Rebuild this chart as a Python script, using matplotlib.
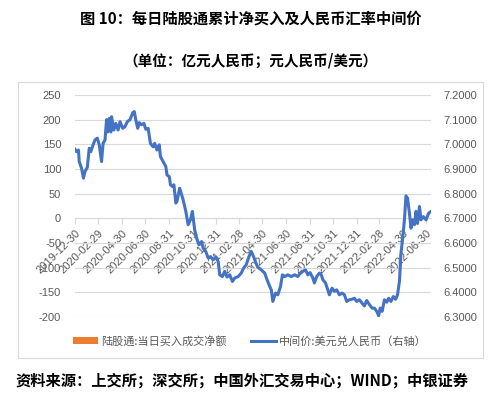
import matplotlib
matplotlib.use("Agg")
import matplotlib.pyplot as plt
import matplotlib.dates as mdates
from matplotlib.patches import Patch, Rectangle
from matplotlib.lines import Line2D
import pandas as pd

plt.rcParams['axes.unicode_minus'] = False

# ---- data ----
dates = [
    "2019-12-30", "2020-01-03", "2020-01-08", "2020-01-10", "2020-01-16", "2020-01-21", "2020-01-25",
    "2020-01-31", "2020-02-05", "2020-02-09", "2020-02-15", "2020-02-20", "2020-02-26", "2020-03-02",
    "2020-03-08", "2020-03-12", "2020-03-17", "2020-03-21", "2020-03-24", "2020-03-28", "2020-04-01",
    "2020-04-03", "2020-04-09", "2020-04-14", "2020-04-20", "2020-04-25", "2020-05-02", "2020-05-08",
    "2020-05-14", "2020-05-21", "2020-05-28", "2020-06-01", "2020-06-05", "2020-06-10", "2020-06-14",
    "2020-06-20", "2020-06-26", "2020-07-01", "2020-07-07", "2020-07-13", "2020-07-20", "2020-07-24",
    "2020-07-30", "2020-08-05", "2020-08-08", "2020-08-15", "2020-08-22", "2020-08-25", "2020-08-31",
    "2020-09-03", "2020-09-08", "2020-09-12", "2020-09-17", "2020-09-20", "2020-09-27", "2020-10-06",
    "2020-10-13", "2020-10-19", "2020-10-25", "2020-10-30", "2020-11-05", "2020-11-10", "2020-11-16",
    "2020-11-23", "2020-11-27", "2020-12-04", "2020-12-10", "2020-12-16", "2020-12-23", "2020-12-30",
    "2021-01-05", "2021-01-09", "2021-01-16", "2021-01-22", "2021-01-28", "2021-02-04", "2021-02-11",
    "2021-02-17", "2021-02-26", "2021-03-06", "2021-03-12", "2021-03-19", "2021-03-26", "2021-04-01",
    "2021-04-07", "2021-04-13", "2021-04-18", "2021-04-27", "2021-05-06", "2021-05-12", "2021-05-19",
    "2021-05-23", "2021-05-27", "2021-06-03", "2021-06-09", "2021-06-16", "2021-06-21", "2021-06-27",
    "2021-07-05", "2021-07-14", "2021-07-23", "2021-07-31", "2021-08-05", "2021-08-13", "2021-08-20",
    "2021-08-26", "2021-09-01", "2021-09-08", "2021-09-12", "2021-09-18", "2021-09-25", "2021-09-30",
    "2021-10-04", "2021-10-11", "2021-10-17", "2021-10-21", "2021-10-28", "2021-11-03", "2021-11-09",
    "2021-11-16", "2021-11-23", "2021-11-29", "2021-12-05", "2021-12-12", "2021-12-19", "2021-12-25",
    "2021-12-31", "2022-01-07", "2022-01-14", "2022-01-20", "2022-01-26", "2022-02-02", "2022-02-09",
    "2022-02-15", "2022-02-21", "2022-02-26", "2022-03-02", "2022-03-07", "2022-03-13", "2022-03-19",
    "2022-03-24", "2022-03-30", "2022-04-05", "2022-04-11", "2022-04-16", "2022-04-21", "2022-04-25",
    "2022-04-29", "2022-05-04", "2022-05-08", "2022-05-12", "2022-05-17", "2022-05-21", "2022-05-25",
    "2022-05-30", "2022-06-03", "2022-06-07", "2022-06-12", "2022-06-16", "2022-06-22", "2022-06-29",
    "2022-07-06", "2022-07-12",
]
usdcny_mid = [
    6.980, 6.970, 6.977, 6.930, 6.903, 6.863, 6.890,
    6.907, 6.984, 6.970, 6.998, 7.018, 7.025, 6.998,
    6.930, 7.004, 7.018, 7.100, 7.050, 7.105, 7.050,
    7.112, 7.058, 7.085, 7.058, 7.092, 7.065, 7.072,
    7.092, 7.100, 7.128, 7.133, 7.099, 7.065, 7.088,
    7.079, 7.085, 7.061, 7.065, 7.004, 6.990, 7.004,
    6.977, 6.998, 6.950, 6.930, 6.910, 6.876, 6.869,
    6.836, 6.829, 6.836, 6.762, 6.769, 6.822, 6.775,
    6.728, 6.674, 6.694, 6.728, 6.653, 6.620, 6.593,
    6.606, 6.579, 6.565, 6.539, 6.545, 6.532, 6.543,
    6.525, 6.471, 6.464, 6.485, 6.462, 6.471, 6.444,
    6.458, 6.464, 6.478, 6.498, 6.512, 6.545, 6.566,
    6.545, 6.519, 6.502, 6.491, 6.478, 6.451, 6.424,
    6.410, 6.363, 6.397, 6.390, 6.424, 6.471, 6.464,
    6.471, 6.464, 6.471, 6.464, 6.475, 6.485, 6.491,
    6.471, 6.480, 6.458, 6.438, 6.464, 6.478, 6.471,
    6.451, 6.438, 6.410, 6.390, 6.417, 6.404, 6.410,
    6.390, 6.397, 6.390, 6.363, 6.370, 6.372, 6.376,
    6.363, 6.370, 6.356, 6.345, 6.367, 6.350, 6.336,
    6.336, 6.323, 6.305, 6.336, 6.323, 6.370, 6.360,
    6.376, 6.363, 6.383, 6.372, 6.390, 6.444, 6.559,
    6.613, 6.694, 6.791, 6.782, 6.721, 6.660, 6.694,
    6.674, 6.728, 6.679, 6.748, 6.694, 6.707, 6.694,
    6.721, 6.728,
]
tick_labels = [
    "2019-12-30", "2020-02-29", "2020-04-30", "2020-06-30", "2020-08-31", "2020-10-31",
    "2020-12-31", "2021-02-28", "2021-04-30", "2021-06-30", "2021-08-31", "2021-10-31",
    "2021-12-31", "2022-02-28", "2022-04-30", "2022-06-30",
]
left_ticks = [-200, -150, -100, -50, 0, 50, 100, 150, 200, 250]
right_ticks = [6.3, 6.4, 6.5, 6.6, 6.7, 6.8, 6.9, 7.0, 7.1, 7.2]
legend_labels = ["陆股通:当日买入成交净额", "中间价:美元兑人民币（右轴）"]
title1 = "图 10：每日陆股通累计净买入及人民币汇率中间价"
title2 = "（单位：亿元人民币；元人民币/美元）"
source = "资料来源：上交所；深交所；中国外汇交易中心；WIND；中银证券"

# ---- styling ----
CJK = ['Noto Sans CJK SC', 'DejaVu Sans']
NUM = ['Liberation Sans', 'DejaVu Sans']
GRAY = '#595959'
GRID = '#D9D9D9'
BLUE = '#4472C4'
ORANGE = '#ED7D31'

x = pd.to_datetime(dates)
xt = pd.to_datetime(tick_labels)

fig = plt.figure(figsize=(5.01, 4.00), dpi=100)
fig.patch.set_facecolor('white')

# outer chart frame
fig.add_artist(Rectangle((18 / 501, 1 - 358 / 400), 465 / 501, 276 / 400,
                         transform=fig.transFigure, facecolor='none',
                         edgecolor=GRID, linewidth=0.8))

ax = fig.add_axes([75 / 501, 1 - 317 / 400, 356 / 501, 222 / 400])
ax.set_xlim(x[0], x[-1])
ax.set_ylim(-200, 250)
ax.set_yticks(left_ticks)
ax.set_yticklabels([str(v) for v in left_ticks], family=NUM, fontsize=8, color=GRAY)
ax.grid(axis='y', color=GRID, linewidth=0.8)
ax.set_axisbelow(True)
for s in ['top', 'right', 'left']:
    ax.spines[s].set_visible(False)
ax.spines['bottom'].set_position(('data', 0))
ax.spines['bottom'].set_color(GRID)
ax.spines['bottom'].set_linewidth(0.8)
ax.tick_params(axis='y', length=0, pad=10)
ax.set_xticks(xt)
ax.set_xticklabels(tick_labels, rotation=45, ha='right', va='top',
                   rotation_mode='anchor', family=NUM, fontsize=8, color=GRAY)
ax.tick_params(axis='x', length=4, color=GRID, width=0.8, pad=3)

ax2 = ax.twinx()
ax2.set_ylim(6.3, 7.2)
ax2.set_yticks(right_ticks)
ax2.set_yticklabels([f"{v:.4f}" for v in right_ticks], family=NUM, fontsize=8, color=GRAY)
ax2.tick_params(axis='y', length=0, pad=9)
for s in ax2.spines.values():
    s.set_visible(False)
ax2.plot(x, usdcny_mid, color=BLUE, linewidth=2.2, solid_joinstyle='round')

handles = [Patch(facecolor=ORANGE, edgecolor='none'),
           Line2D([], [], color=BLUE, linewidth=2.2)]
fig.legend(handles, legend_labels, loc='center', bbox_to_anchor=(250 / 501, 1 - 341 / 400),
           ncol=2, frameon=False, prop={'family': CJK, 'size': 8},
           labelcolor=GRAY, handlelength=2.2, handleheight=0.5, columnspacing=2.2,
           handletextpad=0.3)

fig.text(0.5, 1 - 18 / 400, title1, ha='center', va='center', family=CJK,
         fontsize=11, fontweight='bold', color='black')
fig.text(0.5, 1 - 61 / 400, title2, ha='center', va='center', family=CJK,
         fontsize=10.5, fontweight='bold', color='black')
fig.text(15 / 501, 1 - 381 / 400, source, ha='left', va='center', family=CJK,
         fontsize=11, fontweight='bold', color='black')

fig.savefig('out.png', dpi=100, facecolor='white')
